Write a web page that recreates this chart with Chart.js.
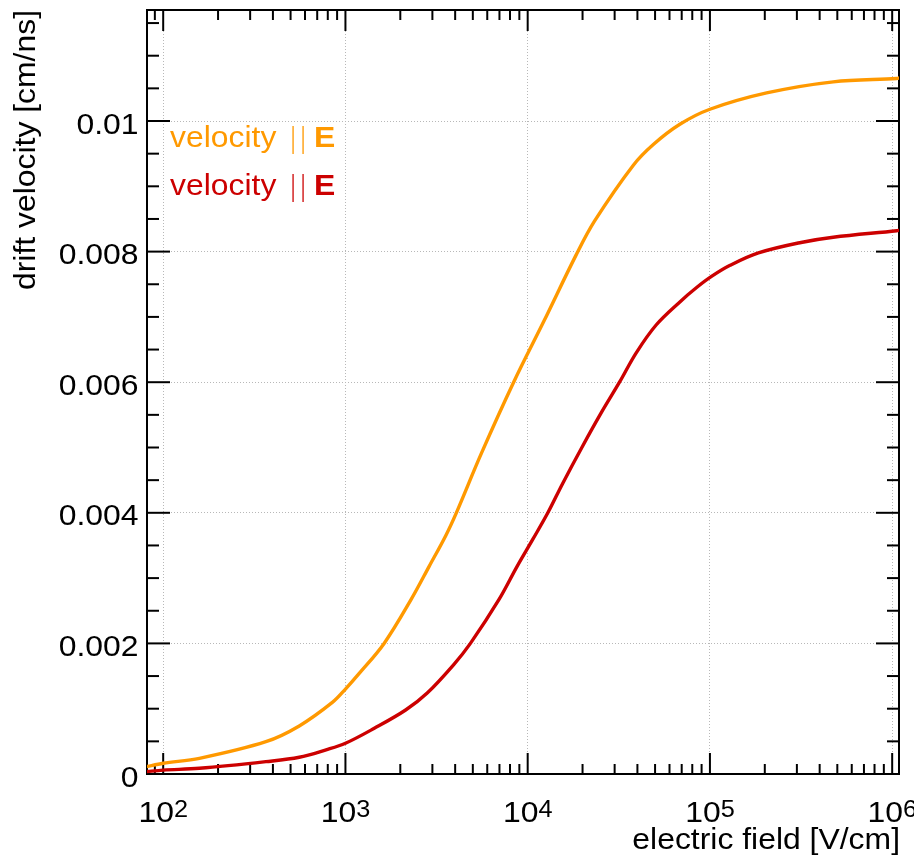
<!DOCTYPE html>
<html>
<head>
<meta charset="utf-8">
<script src="https://cdn.jsdelivr.net/npm/chart.js@4.4.1/dist/chart.umd.min.js"></script>
<style>
  html, body { margin: 0; padding: 0; background: #fff; }
  #wrap { width: 914px; height: 861px; }
</style>
</head>
<body>
<div id="wrap"><canvas id="chart" width="914" height="861"></canvas></div>
<script>
// velocity || E (orange)
const fieldPar = [80, 100, 158, 366, 558, 851, 1000, 1190, 1630, 2290, 2880, 3550, 4060, 5570, 8375,
    12300, 18450, 23300, 37900, 48900, 68400, 100000, 204600, 475000, 1060000, 1100000];
const velocityPar = [0.00011, 0.000164, 0.00024, 0.000495, 0.000736, 0.0011, 0.0013, 0.00154, 0.002,
    0.00267, 0.00318, 0.00365, 0.004, 0.00491, 0.006, 0.00694, 0.00795, 0.00847, 0.00932, 0.00964,
    0.00995, 0.01018, 0.01043, 0.0106, 0.01065, 0.01066];

// second curve (red)
const fieldRed = [80, 100, 158, 366, 558, 783, 1000, 1440, 2140, 2810, 3940, 4850, 6950, 8750, 10700,
    12900, 15560, 20000, 25300, 31900, 39400, 50800, 68400, 84500, 102000, 129000, 184500, 316000,
    475000, 1060000, 1100000];
const velocityRed = [0.000035, 0.00006, 0.000087, 0.000189, 0.000256, 0.00037, 0.00047, 0.0007, 0.00098,
    0.00124, 0.00168, 0.002, 0.00267, 0.00318, 0.0036, 0.004, 0.00445, 0.00502, 0.00553, 0.006,
    0.00645, 0.00688, 0.00723, 0.00745, 0.00762, 0.00779, 0.00798, 0.00814, 0.00822, 0.00832, 0.00833];

const xTickValues = [100, 1000, 10000, 100000, 1000000];
const xTickExponents = ['2', '3', '4', '5', '6'];
const yTickValues = [0, 0.002, 0.004, 0.006, 0.008, 0.01];
const yTickLabels = ['0', '0.002', '0.004', '0.006', '0.008', '0.01'];

const legendLabels = ['velocity', 'velocity'];
const legendColors = ['#ff9900', '#cc0000'];

const FONT = '"Liberation Sans", Arial, sans-serif';
const STRETCH = 1.1;

function drawText(ctx, str, x, y, align, font, color, sx) {
    ctx.save();
    ctx.translate(x, y);
    ctx.scale(sx || STRETCH, 1);
    ctx.font = font;
    ctx.textAlign = align;
    ctx.textBaseline = 'alphabetic';
    ctx.fillStyle = color;
    ctx.fillText(str, 0, 0);
    ctx.restore();
}

// ROOT style frame with ticks on all four sides pointing inwards
const rootFrame = {
    id: 'rootFrame',
    beforeDatasetsDraw(chart) {
        const { ctx, chartArea: a, scales } = chart;
        const xs = scales.x, ys = scales.y;
        ctx.save();
        ctx.strokeStyle = '#000';
        ctx.lineWidth = 2;

        const tick = (x1, y1, x2, y2) => {
            ctx.beginPath();
            ctx.moveTo(x1, y1);
            ctx.lineTo(x2, y2);
            ctx.stroke();
        };

        // x ticks
        for (let e = 1; e <= 6; e++) {
            for (let k = 1; k <= 9; k++) {
                const v = k * Math.pow(10, e);
                if (v < xs.min || v > xs.max) continue;
                const px = xs.getPixelForValue(v);
                const len = k === 1 ? 21 : 10;
                tick(px, a.bottom, px, a.bottom - len);
                tick(px, a.top, px, a.top + len);
            }
        }
        // y ticks, minor every 0.0005
        for (let i = 0; i * 0.0005 <= ys.max; i++) {
            const py = ys.getPixelForValue(i * 0.0005);
            const len = i % 4 === 0 ? 23 : 12;
            tick(a.left, py, a.left + len, py);
            tick(a.right, py, a.right - len, py);
        }
        ctx.strokeRect(a.left, a.top, a.right - a.left, a.bottom - a.top);
        ctx.restore();
    },
    afterDraw(chart) {
        const { ctx, scales } = chart;
        const xs = scales.x, ys = scales.y;
        const mainFont = '29px ' + FONT;
        const supFont = '23px ' + FONT;

        // y tick labels
        yTickValues.forEach((v, i) => {
            drawText(ctx, yTickLabels[i], 138.5, ys.getPixelForValue(v) + 12.5, 'right', mainFont, '#000');
        });

        // x tick labels: 10^n
        xTickValues.forEach((v, i) => {
            const px = xs.getPixelForValue(v);
            ctx.save();
            ctx.font = mainFont;
            const w1 = ctx.measureText('10').width * STRETCH;
            ctx.font = supFont;
            const w2 = ctx.measureText(xTickExponents[i]).width * STRETCH;
            ctx.restore();
            const start = px - (w1 + w2) / 2;
            drawText(ctx, '10', start, 822, 'left', mainFont, '#000');
            drawText(ctx, xTickExponents[i], start + w1, 817, 'left', supFont, '#000');
        });

        // axis titles
        drawText(ctx, 'electric field [V/cm]', 900, 849, 'right', mainFont, '#000');
        ctx.save();
        ctx.translate(35, 10);
        ctx.rotate(-Math.PI / 2);
        drawText(ctx, 'drift velocity [cm/ns]', 0, 0, 'right', mainFont, '#000');
        ctx.restore();

        // legend texts
        legendLabels.forEach((label, i) => {
            const base = 147 + i * 48;
            const col = legendColors[i];
            drawText(ctx, label, 170, base, 'left', mainFont, col);
            drawText(ctx, '|', 293, base + 1, 'center', mainFont, col, 0.55);
            drawText(ctx, '|', 303, base + 1, 'center', mainFont, col, 0.55);
            drawText(ctx, 'E', 314, base, 'left', 'bold ' + mainFont, col);
        });
    }
};

const ctx = document.getElementById('chart').getContext('2d');
new Chart(ctx, {
    type: 'line',
    data: {
        datasets: [
            {
                label: 'velocity || E',
                data: fieldPar.map((x, i) => ({ x: x, y: velocityPar[i] })),
                borderColor: legendColors[0],
                borderWidth: 3.4,
                pointRadius: 0,
                fill: false,
                tension: 0.35
            },
            {
                label: 'velocity || E (2)',
                data: fieldRed.map((x, i) => ({ x: x, y: velocityRed[i] })),
                borderColor: legendColors[1],
                borderWidth: 3.4,
                pointRadius: 0,
                fill: false,
                tension: 0.35
            }
        ]
    },
    options: {
        responsive: false,
        animation: false,
        devicePixelRatio: 1,
        layout: { padding: { left: 147, right: 15, top: 10, bottom: 87 } },
        plugins: {
            legend: { display: false },
            tooltip: { enabled: false }
        },
        scales: {
            x: {
                type: 'logarithmic',
                min: 81.5,
                max: 1090000,
                afterBuildTicks: s => { s.ticks = xTickValues.map(v => ({ value: v })); },
                afterFit: s => { s.height = 0; },
                ticks: { display: false },
                grid: { color: '#b8b8b8', lineWidth: 1, drawTicks: false },
                border: { display: false, dash: [1, 2] }
            },
            y: {
                type: 'linear',
                min: 0,
                max: 0.0117,
                afterBuildTicks: s => { s.ticks = yTickValues.map(v => ({ value: v })); },
                afterFit: s => { s.width = 0; },
                ticks: { display: false },
                grid: { color: '#b8b8b8', lineWidth: 1, drawTicks: false },
                border: { display: false, dash: [1, 2] }
            }
        }
    },
    plugins: [rootFrame]
});
</script>
</body>
</html>
